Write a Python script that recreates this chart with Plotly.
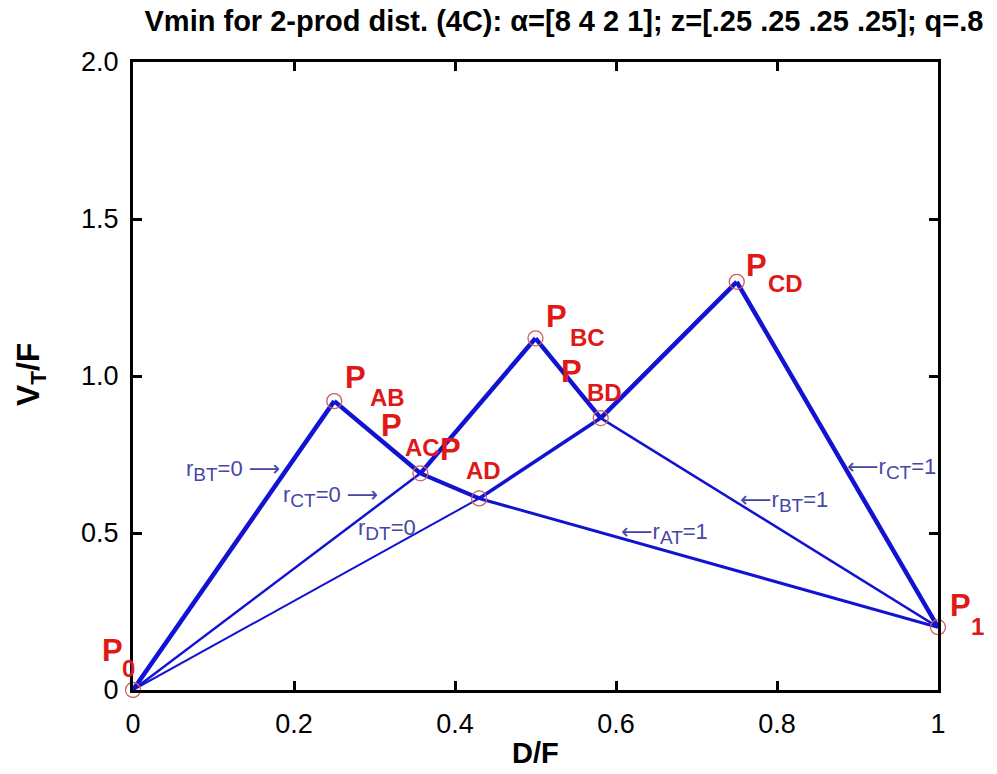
import plotly.graph_objects as go

# ---- data ----
point_names = ["P0", "PAB", "PAC", "PAD", "PBC", "PBD", "PCD", "P1"]
point_x = [0.0, 0.25, 0.357, 0.43, 0.5, 0.581, 0.75, 1.0]
point_y = [0.0, 0.92, 0.69, 0.61, 1.12, 0.866, 1.30, 0.20]
label_sub = ["0", "AB", "AC", "AD", "BC", "BD", "CD", "1"]

# line paths through the points (by name)
paths = [
    ["P0", "PAB"],
    ["PAB", "PAC", "PAD", "P1"],
    ["P0", "PAC", "PBC"],
    ["PBC", "PBD", "P1"],
    ["P0", "PAD", "PBD", "PCD"],
    ["PCD", "P1"],
]

# curve labels
r_main = ["r", "r", "r", "← r", "← r", "← r"]
r_subs = ["BT", "CT", "DT", "AT", "BT", "CT"]
r_tail = ["=0 →", "=0 →", "=0", "=1", "=1", "=1"]
r_x = [0.124, 0.245, 0.316, 0.66, 0.809, 0.942]
r_y = [0.70, 0.615, 0.51, 0.50, 0.60, 0.707]

x_ticks = [0, 0.2, 0.4, 0.6, 0.8, 1]
x_ticktext = ["0", "0.2", "0.4", "0.6", "0.8", "1"]
y_ticks = [0, 0.5, 1.0, 1.5, 2.0]
y_ticktext = ["0", "0.5", "1.0", "1.5", "2.0"]

# ---- styles ----
seg_widths = [[4.5], [4.5, 4, 3], [2.5, 4.5], [4.5, 2.5], [2, 3.5, 4.5], [4.5]]
# label offsets in px: (P dx, P dy, sub dx, sub dy), dy positive = up
label_off = {
    "P0": (-21, 40, -5, 22),
    "PAB": (21, 24, 53, 4),
    "PAC": (-29, 48, 2, 26),
    "PAD": (-29, 49, 4, 28),
    "PBC": (21, 22, 52, 1),
    "PBD": (-29, 47, 4, 26),
    "PCD": (20, 16, 49, -2),
    "P1": (22, 22, 39, 1),
}
LINE_C = "#1212d2"
RED = "#e01818"
FONT = "Arial, Liberation Sans, sans-serif"

idx = {n: i for i, n in enumerate(point_names)}

fig = go.Figure()
for path, widths in zip(paths, seg_widths):
    for k in range(len(path) - 1):
        a, b = idx[path[k]], idx[path[k + 1]]
        fig.add_trace(go.Scatter(
            x=[point_x[a], point_x[b]], y=[point_y[a], point_y[b]],
            mode="lines", line=dict(color=LINE_C, width=widths[k]),
            hoverinfo="skip", showlegend=False, cliponaxis=False))

fig.add_trace(go.Scatter(
    x=point_x, y=point_y, mode="markers",
    marker=dict(symbol="circle-open", size=15, color="rgb(205,95,95)",
                line=dict(width=1.3)),
    showlegend=False, cliponaxis=False))

annotations = []
for n, xv, yv, sub in zip(point_names, point_x, point_y, label_sub):
    pdx, pdy, sdx, sdy = label_off[n]
    annotations.append(dict(x=xv, y=yv, xref="x", yref="y", text="<b>P</b>",
                            showarrow=False, xshift=pdx, yshift=pdy,
                            font=dict(family=FONT, size=31, color=RED)))
    annotations.append(dict(x=xv, y=yv, xref="x", yref="y", text="<b>" + sub + "</b>",
                            showarrow=False, xshift=sdx, yshift=sdy,
                            font=dict(family=FONT, size=24, color=RED)))

for m, s, t, xv, yv in zip(r_main, r_subs, r_tail, r_x, r_y):
    txt = (m + "<sub><span style='font-size:19px'>" + s + "</span></sub>"
           + t.replace("→", "<span style='font-family:DejaVu Sans'>⟶</span>"))
    txt = txt.replace("← ", "<span style='font-family:DejaVu Sans'>⟵</span>")
    annotations.append(dict(x=xv, y=yv, xref="x", yref="y", text=txt,
                            showarrow=False,
                            font=dict(family=FONT, size=22, color="#4646a8")))

# axis titles
annotations.append(dict(x=0.5, y=-0.1, xref="paper", yref="paper",
                        text="<b>D/F</b>", showarrow=False, yanchor="middle",
                        font=dict(family=FONT, size=29, color="black")))
annotations.append(dict(x=-0.128, y=0.503, xref="paper", yref="paper",
                        text="<b>V<sub>T</sub>/F</b>", showarrow=False, textangle=-90,
                        xanchor="center", yanchor="middle",
                        font=dict(family=FONT, size=32, color="black")))

fig.update_layout(
    width=997, height=774,
    margin=dict(l=133, r=59, t=62, b=84),
    paper_bgcolor="white", plot_bgcolor="white",
    title=dict(text="<b>Vmin for 2-prod dist. (4C): α=[8 4 2 1]; z=[.25 .25 .25 .25]; q=.8</b>",
               x=564 / 997, xanchor="center", y=1 - 21 / 774, yanchor="middle",
               font=dict(family=FONT, size=29, color="black")),
    annotations=annotations,
)
axis_common = dict(showline=True, linecolor="black", linewidth=3, mirror="ticks",
                   ticks="inside", ticklen=9, tickwidth=2.5, tickcolor="black",
                   showgrid=False, zeroline=False,
                   tickfont=dict(family=FONT, size=27, color="black"))
fig.update_xaxes(range=[0, 1], tickvals=x_ticks, ticktext=x_ticktext,
                 ticklabelstandoff=8, **axis_common)
fig.update_yaxes(range=[0, 2], tickvals=y_ticks, ticktext=y_ticktext,
                 ticklabelstandoff=6, **axis_common)

fig.write_html("out.html")
